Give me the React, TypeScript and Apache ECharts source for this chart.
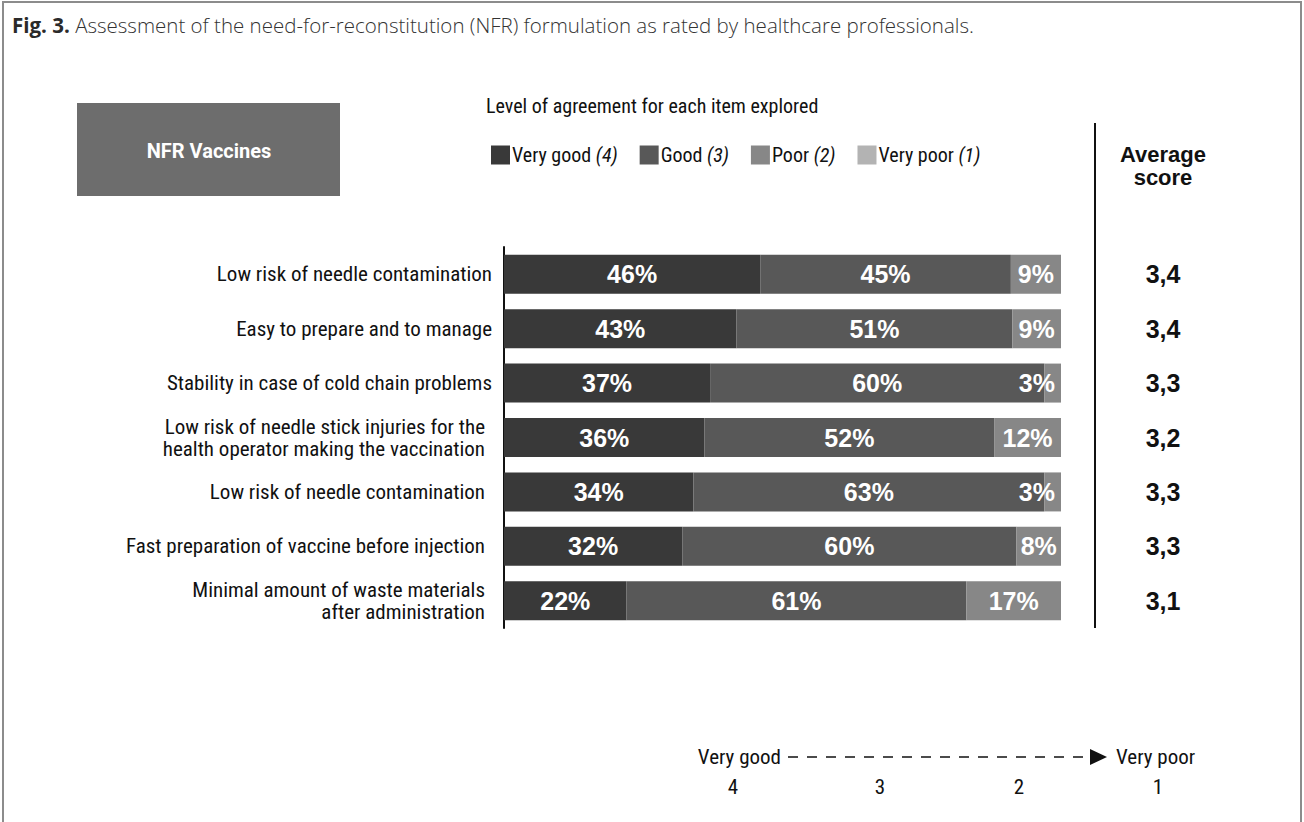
import React, { useEffect, useRef } from "react";
import * as echarts from "echarts";

const categories = [
  "Low risk of needle contamination",
  "Easy to prepare and to manage",
  "Stability in case of cold chain problems",
  "Low risk of needle stick injuries for the\nhealth operator making the vaccination",
  "Low risk of needle contamination",
  "Fast preparation of vaccine before injection",
  "Minimal amount of waste materials\nafter administration",
];
const seriesNames = ["Very good", "Good", "Poor", "Very poor"];
const seriesScores = ["4", "3", "2", "1"];
const veryGood = [46, 43, 37, 36, 34, 32, 22];
const good = [45, 51, 60, 52, 63, 60, 61];
const poor = [9, 9, 3, 12, 3, 8, 17];
const veryPoor = [0, 0, 0, 0, 0, 0, 0];
const averageScores = [3.4, 3.4, 3.3, 3.2, 3.3, 3.3, 3.1];
const scaleTicks = ["4", "3", "2", "1"];
const scaleEnds = ["Very good", "Very poor"];

const colors = ["#393939", "#585858", "#878787", "#b3b3b3"];
const COND = "'Liberation Sans Narrow', 'Roboto Condensed', 'DejaVu Sans Condensed', Roboto, sans-serif";
const BOLD = "'Liberation Sans', Arial, sans-serif";

export default function App() {
  const ref = useRef<HTMLDivElement>(null);
  useEffect(() => {
    const chart = echarts.init(ref.current!, null, { renderer: "svg" });
    const allSeries = [veryGood, good, poor, veryPoor];
    const totals = categories.map((_, i) => allSeries.reduce((s, arr) => s + arr[i], 0));

    const series = allSeries.map((arr, si) => ({
      name: seriesNames[si],
      type: "bar",
      stack: "total",
      barWidth: 39,
      itemStyle: { color: colors[si] },
      data: arr.map((v, i) => ({
        value: (v / totals[i]) * 100,
        raw: v,
        label: {
          position: v < 5 ? "insideRight" : "inside",
          distance: 6,
        },
      })),
      label: {
        show: true,
        color: "#ffffff",
        fontFamily: BOLD,
        fontWeight: "bold",
        fontSize: 25,
        formatter: (p: any) => (p.data.raw > 0 ? `${p.data.raw}%` : ""),
      },
    }));

    const option: any = {
      animation: false,
      backgroundColor: "#ffffff",
      legend: {
        data: seriesNames,
        left: 486,
        top: 140,
        icon: "rect",
        itemWidth: 19,
        itemHeight: 19,
        itemGap: 22,
        selectedMode: false,
        formatter: (name: string) => `${name} {i|(${seriesScores[seriesNames.indexOf(name)]})}`,
        textStyle: {
          fontFamily: COND,
          fontSize: 20,
          color: "#111",
          padding: [0, 0, 0, -3],
          rich: {
            i: { fontFamily: COND, fontSize: 20, fontStyle: "italic", color: "#111" },
          },
        },
      },
      grid: { left: 504, right: 243, top: 247, height: 381 },
      xAxis: { type: "value", min: 0, max: 100, show: false },
      yAxis: [
        {
          type: "category",
          inverse: true,
          data: categories.map((c, i) => ({
            value: c,
            textStyle: { padding: [0, i >= 3 ? 7 : 0, 0, 0] },
          })),
          axisLine: { show: true, lineStyle: { color: "#111", width: 2 } },
          axisTick: { show: false },
          axisLabel: {
            margin: 12,
            fontFamily: COND,
            fontSize: 21,
            lineHeight: 22,
            color: "#111",
          },
        },
        {
          type: "category",
          inverse: true,
          position: "right",
          data: averageScores.map((v) => v.toFixed(1).replace(".", ",")),
          axisLine: { show: false },
          axisTick: { show: false },
          axisLabel: {
            margin: 102,
            align: "center",
            fontFamily: BOLD,
            fontWeight: "bold",
            fontSize: 25,
            color: "#111",
          },
        },
      ],
      series,
      graphic: [
        {
          type: "rect",
          shape: { x: 3, y: 2, width: 1298, height: 900 },
          style: { fill: "none", stroke: "#8c8c8c", lineWidth: 2 },
          silent: true,
        },
        {
          type: "text",
          left: 12,
          top: 14,
          style: {
            text: "{b|Fig. 3.}{r| Assessment of the need-for-reconstitution (NFR) formulation as rated by healthcare professionals.}",
            rich: {
              b: { fontFamily: "'Open Sans', sans-serif", fontSize: 20.5, fontWeight: "bold", fill: "#2a2a2a" },
              r: { fontFamily: "'Open Sans', sans-serif", fontSize: 20.5, fontWeight: 300, fill: "#333" },
            },
          },
        },
        {
          type: "rect",
          shape: { x: 77, y: 103, width: 263, height: 93 },
          style: { fill: "#6d6d6d" },
        },
        {
          type: "text",
          x: 209,
          y: 151,
          style: {
            text: "NFR Vaccines",
            fill: "#ffffff",
            fontFamily: "Roboto, sans-serif",
            fontWeight: "bold",
            fontSize: 20,
            align: "center",
            verticalAlign: "middle",
          },
        },
        {
          type: "text",
          x: 486,
          y: 106,
          style: {
            text: "Level of agreement for each item explored",
            fill: "#111",
            fontFamily: COND,
            fontSize: 20,
            verticalAlign: "middle",
          },
        },
        {
          type: "line",
          shape: { x1: 1095, y1: 123, x2: 1095, y2: 628 },
          style: { stroke: "#111", lineWidth: 2 },
        },
        {
          type: "text",
          x: 1163,
          y: 166,
          style: {
            text: "Average\nscore",
            fill: "#111",
            fontFamily: BOLD,
            fontWeight: "bold",
            fontSize: 22,
            lineHeight: 23,
            align: "center",
            verticalAlign: "middle",
          },
        },
        {
          type: "text",
          x: 781,
          y: 757,
          style: {
            text: scaleEnds[0],
            fill: "#111",
            fontFamily: COND,
            fontSize: 21,
            align: "right",
            verticalAlign: "middle",
          },
        },
        {
          type: "line",
          shape: { x1: 788, y1: 757, x2: 1092, y2: 757 },
          style: { stroke: "#111", lineWidth: 1.5, lineDash: [10, 9] },
        },
        {
          type: "polygon",
          shape: { points: [[1090, 749], [1107, 757], [1090, 765]] },
          style: { fill: "#111" },
        },
        {
          type: "text",
          x: 1116,
          y: 757,
          style: {
            text: scaleEnds[1],
            fill: "#111",
            fontFamily: COND,
            fontSize: 21,
            align: "left",
            verticalAlign: "middle",
          },
        },
        ...scaleTicks.map((t, i) => ({
          type: "text",
          x: [733, 880, 1019, 1158][i],
          y: 787,
          style: {
            text: t,
            fill: "#111",
            fontFamily: COND,
            fontSize: 21,
            align: "center",
            verticalAlign: "middle",
          },
        })),
      ],
    };
    chart.setOption(option);
    return () => chart.dispose();
  }, []);
  return (
    <div
      ref={ref}
      style={{ position: "fixed", left: 0, top: 0, width: 1304, height: 822, background: "#fff" }}
    />
  );
}
